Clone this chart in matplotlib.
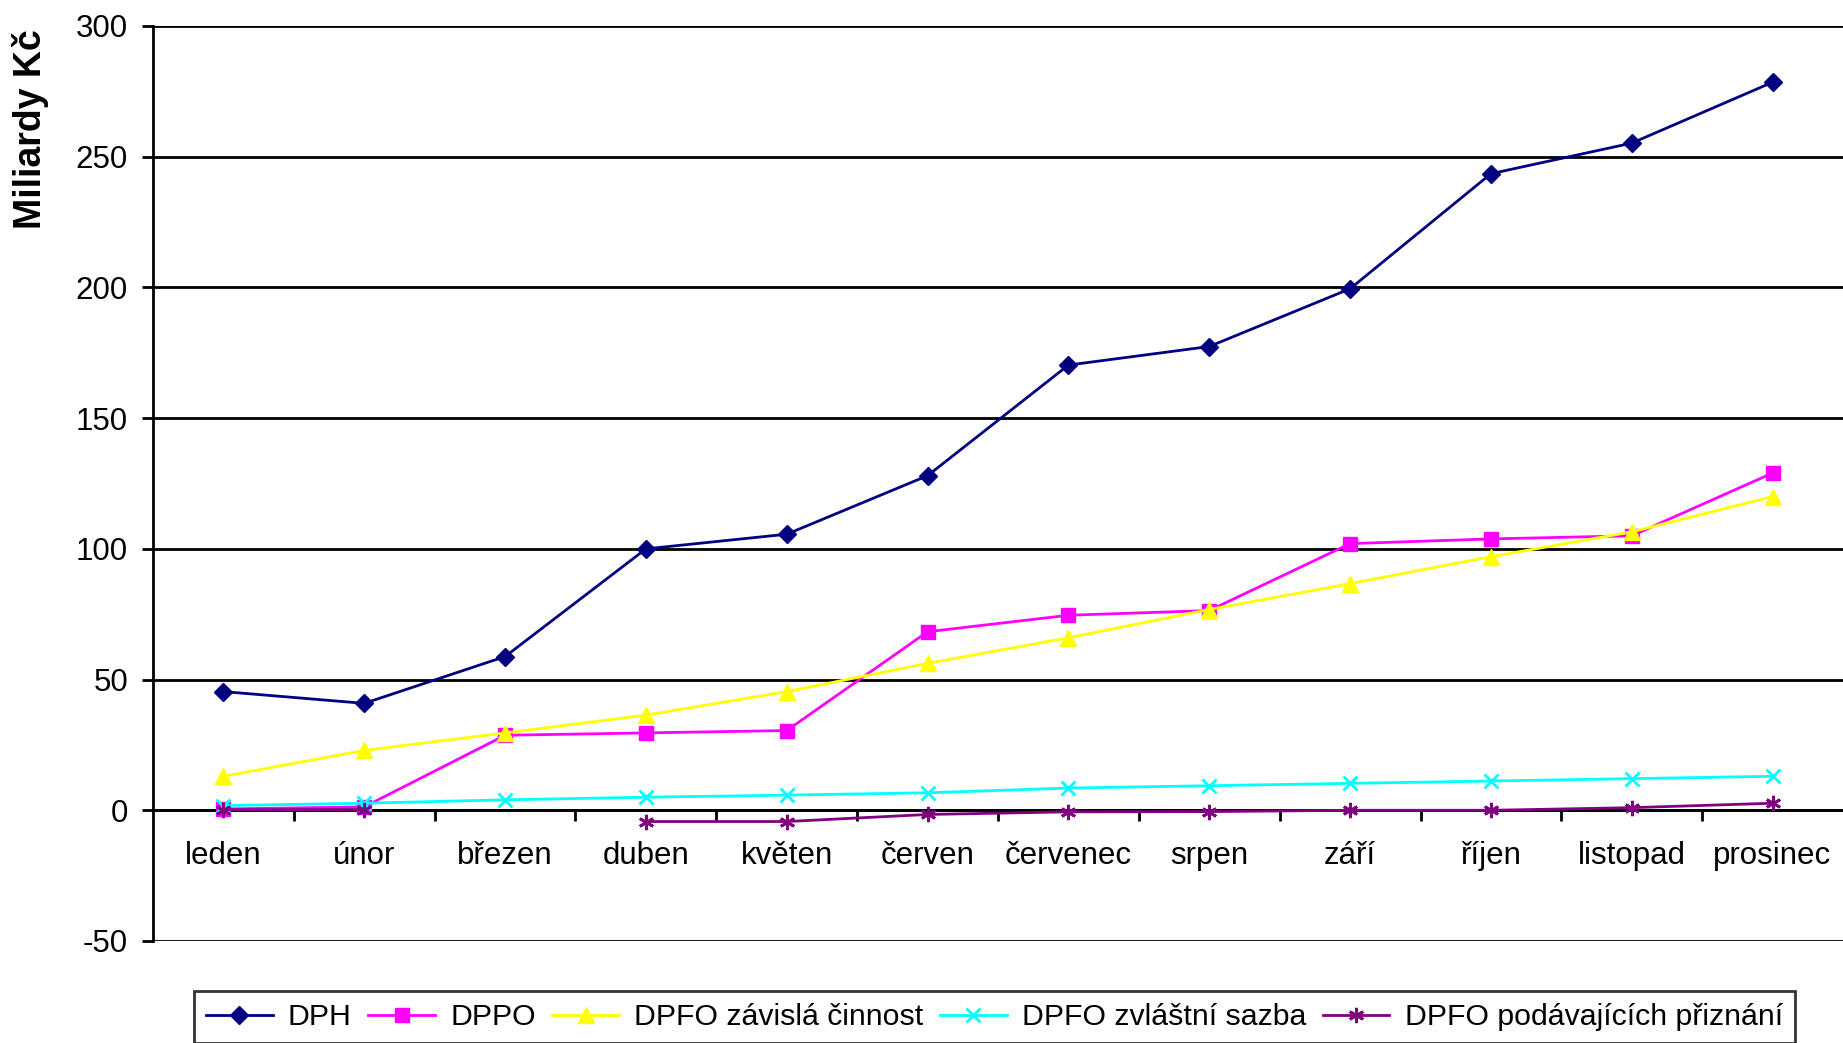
import matplotlib
matplotlib.use("Agg")
import matplotlib.pyplot as plt
import numpy as np

plt.rcParams['font.family'] = ['Liberation Sans', 'DejaVu Sans']
plt.rcParams['axes.unicode_minus'] = False

# =========================================================
# DATA
# =========================================================
months = ["leden", "únor", "březen", "duben", "květen", "červen",
          "červenec", "srpen", "září", "říjen", "listopad", "prosinec"]

dph = [45.4, 40.9, 58.8, 100.0, 105.6, 128.0, 170.3, 177.4, 199.5, 243.5, 255.2, 278.5]
dppo = [0.5, 1.3, 28.7, 29.6, 30.5, 68.3, 74.6, 76.4, 102.0, 103.8, 105.0, 129.0]
dpfo_zavisla = [13.0, 22.9, 29.6, 36.4, 45.4, 56.2, 66.0, 76.8, 86.7, 97.0, 106.5, 120.0]
dpfo_zvlastni = [1.8, 2.7, 4.0, 5.0, 5.8, 6.7, 8.5, 9.4, 10.3, 11.2, 12.1, 13.0]
dpfo_podav = [0.2, 0.3, np.nan, -4.3, -4.3, -1.6, -0.6, -0.5, 0.0, 0.0, 1.0, 2.7]

series = [
    ("DPH", dph, "#000080", "D", 9.5),
    ("DPPO", dppo, "#FF00FF", "s", 9.5),
    ("DPFO závislá činnost", dpfo_zavisla, "#FFFF00", "^", 12),
    ("DPFO zvláštní sazba", dpfo_zvlastni, "#00FFFF", "x", 10),
    ("DPFO podávajících přiznání", dpfo_podav, "#800080", (6, 2, 0), 11),
]

# =========================================================
# FIGURE
# =========================================================
fig = plt.figure(figsize=(18.43, 10.43), dpi=100)
ax = fig.add_axes([153 / 1843, 1 - 941 / 1043, 1 - 153 / 1843, (941 - 26) / 1043])

x = np.arange(len(months))
for name, vals, color, marker, ms in series:
    mew = 2 if marker in ("x", (6, 2, 0)) else 1
    ax.plot(x, vals, color=color, marker=marker, markersize=ms,
            markeredgewidth=mew, linewidth=2.0, label=name, clip_on=False, zorder=3)

ax.set_xlim(-0.5, len(months) - 0.5)
ax.set_ylim(-50, 300)
ax.set_yticks(np.arange(-50, 301, 50))
ax.yaxis.grid(True, color="black", linewidth=2.0)
ax.set_axisbelow(True)

for s in ["top", "right"]:
    ax.spines[s].set_visible(False)
ax.spines["left"].set_linewidth(2.0)
ax.spines["bottom"].set_position(("data", 0))
ax.spines["bottom"].set_linewidth(2.0)

ax.set_xticks(x)
ax.set_xticklabels(months)
ax.set_xticks(np.arange(0.5, len(months) - 0.5, 1), minor=True)
ax.tick_params(axis="x", which="major", length=0, pad=22, labelsize=22.5)
ax.tick_params(axis="x", which="minor", length=8, width=2.0, direction="out")
ax.tick_params(axis="y", length=8, width=2.0, pad=10, labelsize=22.5)

ax.set_ylabel("Miliardy Kč", fontsize=27, fontweight="bold")
ax.yaxis.set_label_coords((49 - 153) / 1843 * 1843 / (1843 - 153), 1 - (129 - 26) / 915)

leg = fig.legend(loc="upper left", bbox_to_anchor=(194 / 1843, 1 - 991 / 1043),
                 ncol=5, fontsize=21.8, frameon=True, fancybox=False,
                 handlelength=2.2, handletextpad=0.5, columnspacing=0.55,
                 borderaxespad=0, borderpad=0.4)
leg.get_frame().set_edgecolor("black")
leg.get_frame().set_linewidth(2.0)

fig.savefig("out.png", dpi=100)
